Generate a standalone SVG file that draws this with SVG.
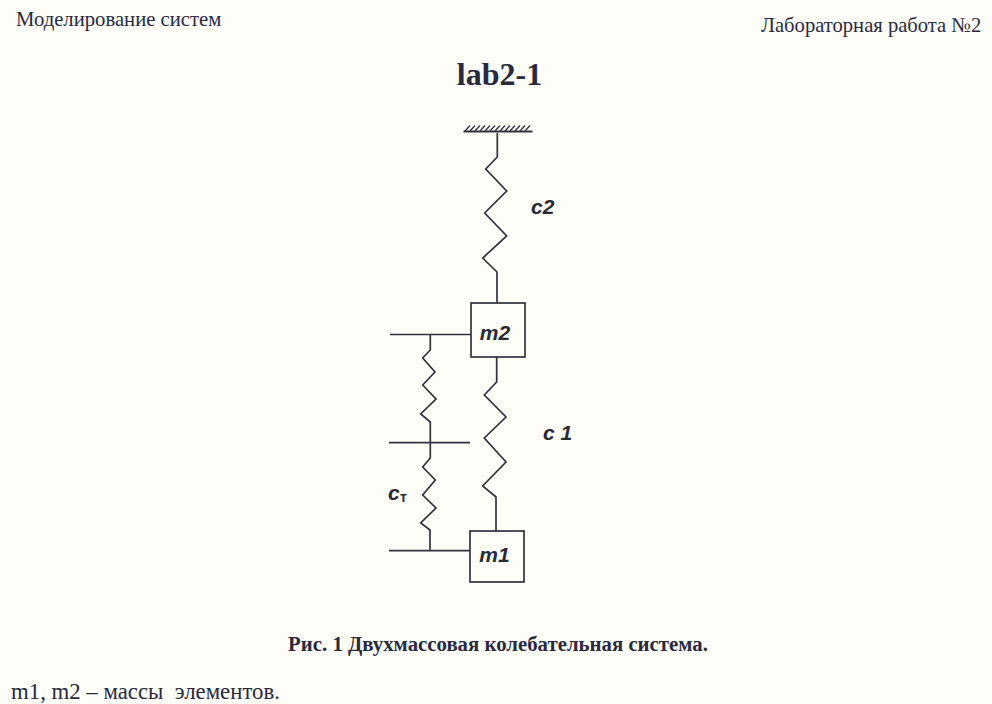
<svg xmlns="http://www.w3.org/2000/svg" width="992" height="704" viewBox="0 0 992 704">
<style>
.s{font-family:"Liberation Serif",serif;fill:#2a2a3e}
.l{font-family:"Liberation Sans",sans-serif;font-weight:bold;font-style:italic;fill:#2a2a35;font-size:21px}
.w{fill:none;stroke:#33333c;stroke-width:1.7;stroke-linejoin:miter}
.b{fill:#fefdf8;stroke:#33333c;stroke-width:1.7}
</style>
<rect width="992" height="704" fill="#fefdf8"/>
<text class="s" x="16" y="25.500" font-size="20.700">Моделирование систем</text>
<text class="s" x="761" y="31.500" font-size="20.600">Лабораторная работа №2</text>
<text class="s" x="499.500" y="85" font-size="32" font-weight="bold" text-anchor="middle">lab2-1</text>
<g id="connectors" class="w">
<path d="M497.300 133V157L485.700 169L506.700 191L484.700 213L506.700 236L482.700 258L497 272V303"/>
<path d="M496.700 357V382L484.300 395L506 417L484.300 438L506 462L482.700 486L496 497V531"/>
<path d="M390 334.500H471M430.300 334.500V350L422.700 358L435 372L422.700 385L436 399L420.700 414L430.300 422V458L422.700 467L435.300 480L422.700 495L436 508L420.700 523L430 530V551M389 442.700H470M389 550.700H470"/>
</g>
<g id="wall" class="w">
<path d="M463.500 131.500H532.500" stroke-width="2"/>
<path d="M465 131L470 125.500M470 131L475 125.500M475 131L480 125.500M480 131L485 125.500M485 131L490 125.500M490 131L495 125.500M495 131L500 125.500M500 131L505 125.500M505 131L510 125.500M510 131L515 125.500M515 131L520 125.500M520 131L525 125.500M525 131L530 125.500" stroke-width="1.300"/>
</g>
<g id="m2"><rect class="b" x="471" y="303" width="54" height="54"/><text class="l" x="495" y="340" text-anchor="middle">m2</text></g>
<g id="m1"><rect class="b" x="470" y="531" width="54" height="51"/><text class="l" x="494.500" y="562" text-anchor="middle">m1</text></g>
<text class="l" x="531" y="214">c2</text>
<text class="l" x="543" y="440" xml:space="preserve">c 1</text>
<g id="cw"><text class="l" x="388" y="500">c</text><text class="l" x="400" y="502" style="font-size:14px;font-style:normal">т</text></g>
<text class="s" x="498" y="650.500" font-size="20.800" font-weight="bold" text-anchor="middle">Рис. 1 Двухмассовая колебательная система.</text>
<text class="s" x="11" y="699" font-size="22.800" xml:space="preserve">m1, m2 – массы  элементов.</text>
</svg>
